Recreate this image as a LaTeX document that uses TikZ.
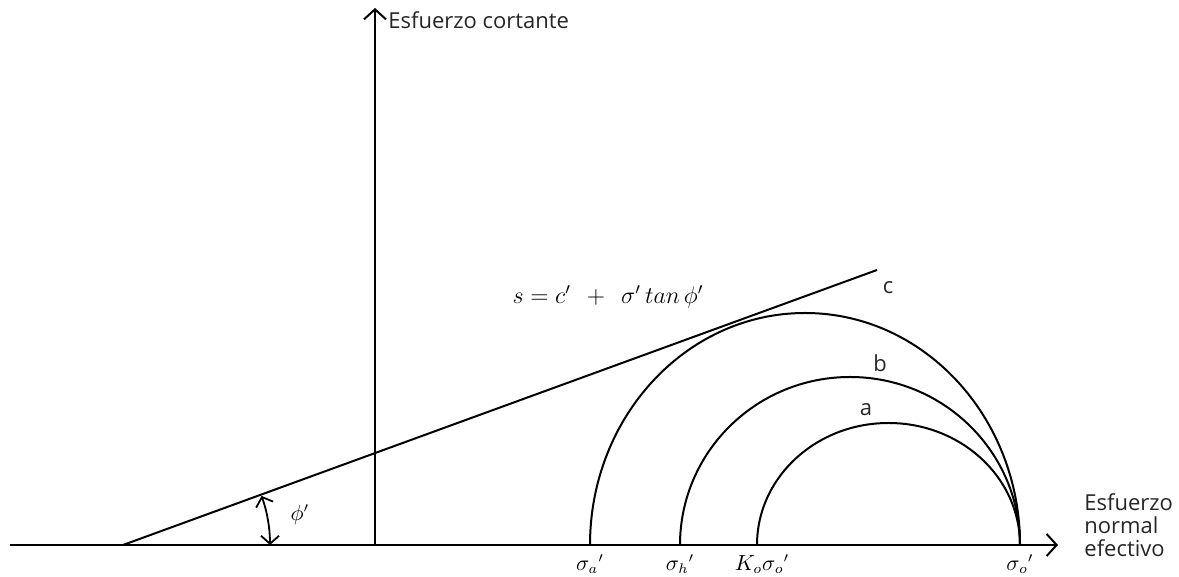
\documentclass[tikz,border=0pt]{standalone}
\usepackage[no-math]{fontspec}
\setmainfont{Open Sans}
\usetikzlibrary{arrows.meta}
\tikzset{
  ln/.style={line width=1pt, black},
  axisarrow/.style={ln, -{Straight Barb[length=5pt,width=11pt,line width=1pt]}},
  lbl/.style={font=\fontsize{11}{11.5}\selectfont, inner sep=0pt, text=black!85},
  mlbl/.style={font=\fontsize{10.5}{12}\selectfont, inner sep=0pt},
}
\begin{document}
\begin{tikzpicture}[x=0.5pt,y=0.5pt]
\useasboundingbox (0,0) rectangle (1179,577);
% key points
\coordinate (hstart) at (10,32);
\coordinate (hend) at (1058,32);
\coordinate (O) at (375,32);
\coordinate (vend) at (375,569);
\coordinate (F0) at (123,32);
\coordinate (F1) at (877,307);
\coordinate (Sa) at (590,32);
\coordinate (Sh) at (680,32);
\coordinate (Ko) at (757,32);
\coordinate (So) at (1020,32);
% axes
\draw[axisarrow] (hstart) -- (hend);
\draw[axisarrow] (O) -- (vend);
% failure envelope
\draw[ln] (F0) -- (F1);
% Mohr circles
\draw[ln] (Sa) arc[start angle=180, end angle=0, x radius=107.5pt, y radius=116pt];
\draw[ln] (Sh) arc[start angle=180, end angle=0, x radius=85pt, y radius=84pt];
\draw[ln] (Ko) arc[start angle=180, end angle=0, x radius=65.75pt, y radius=61pt];
% angle phi
\draw[line width=0.9pt, {Straight Barb[length=4pt,width=9pt,line width=0.9pt]}-{Straight Barb[length=4pt,width=9pt,line width=0.9pt]}]
  ([shift={(0:147)}]F0) arc[start angle=0, end angle=19.5, radius=73.5pt];
\node[mlbl] (phi) at (300,62) {$\phi'$};
% labels
\node[lbl, anchor=west] (tau) at (388,557) {Esfuerzo cortante};
\node[lbl, anchor=north west, align=left] (sig) at (1084,84) {Esfuerzo\\normal\\efectivo};
\node[lbl] (lc) at (888,289) {c};
\node[lbl] (lb) at (880,214) {b};
\node[lbl] (la) at (866,167) {a};
\node[mlbl, font=\fontsize{11.5}{13}\selectfont] (eq) at (608,280) {$s = c'\,\;+\;\,\sigma'\,tan\,\phi'$};
\node[mlbl, anchor=north] (lSa) at (590,23) {$\sigma_a{}'$};
\node[mlbl, anchor=north] (lSh) at (680,23) {$\sigma_h{}'$};
\node[mlbl, anchor=north] (lKo) at (762,23) {$K_o\sigma_o{}'$};
\node[mlbl, anchor=north] (lSo) at (1020,23) {$\sigma_o{}'$};
\end{tikzpicture}
\end{document}
